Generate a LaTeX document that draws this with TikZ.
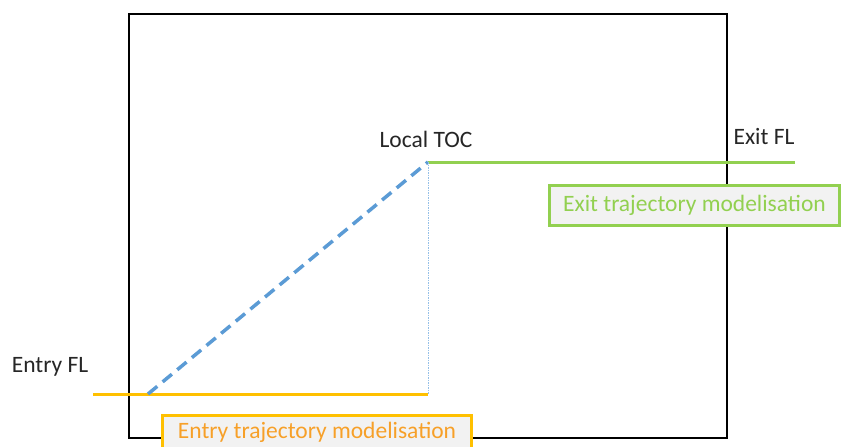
\documentclass[tikz,border=0pt]{standalone}
\usepackage{fontspec}
\setmainfont{Carlito}
\definecolor{entryline}{RGB}{255,192,0}
\definecolor{entrytext}{RGB}{247,160,40}
\definecolor{exitgreen}{RGB}{146,208,80}
\definecolor{climbblue}{RGB}{91,155,213}
\definecolor{guideblue}{RGB}{150,192,232}
\definecolor{boxfill}{RGB}{242,242,242}
\tikzset{
  lbl/.style={font=\fontsize{23.5}{26}\selectfont, text=black!85, inner sep=0pt},
  tagbox/.style={draw, line width=3pt, fill=boxfill, font=\fontsize{23.5}{26}\selectfont, inner sep=0pt, anchor=north west},
}
\begin{document}
\begin{tikzpicture}[x=1pt,y=-1pt]
\useasboundingbox (0,0) rectangle (847,447);
\clip (0,0) rectangle (847,447);
% airspace frame
\draw[line width=1.6pt] (129,14) rectangle (727,438);
% key points
\coordinate (entryL) at (93,394);
\coordinate (entryS) at (148,394);
\coordinate (toc) at (428,162);
\coordinate (tocB) at (428,394);
\coordinate (exitR) at (795,162);
% levels
\draw[entryline, line width=3pt] (entryL) -- (tocB);
\draw[exitgreen, line width=3pt] (toc) -- (exitR);
% climb
\draw[climbblue, line width=3.5pt, dash pattern=on 12pt off 7pt] (entryS) -- (toc);
\draw[guideblue, line width=0.8pt, dash pattern=on 1.5pt off 1pt] (toc) -- (tocB);
% labels
\node[lbl] (lentry) at (50,367) {Entry FL};
\node[lbl] (ltoc) at (426,139) {Local TOC};
\node[lbl] (lexit) at (764,137) {Exit FL};
% modelisation tags
\node[tagbox, draw=exitgreen, text=exitgreen, minimum width=290pt, minimum height=40pt] (exitbox) at (548,184) {Exit trajectory modelisation};
\node[tagbox, draw=entryline, text=entrytext, minimum width=309pt, minimum height=44pt, text depth=14pt] (entrybox) at (161,414) {Entry trajectory modelisation};
\end{tikzpicture}
\end{document}
